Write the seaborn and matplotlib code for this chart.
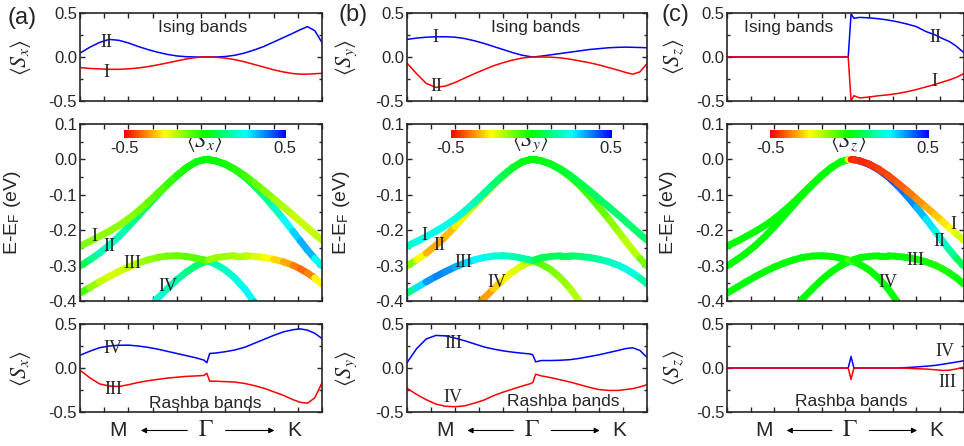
import numpy as np
import matplotlib
matplotlib.use('Agg')
import matplotlib.pyplot as plt
import seaborn as sns
from matplotlib.collections import LineCollection
from matplotlib.colors import LinearSegmentedColormap, Normalize
from matplotlib.ticker import MultipleLocator, FormatStrFormatter

# k path as fraction of the M <- Gamma -> K axis (Gamma sits at 0.524)
kpath = [0.00, 0.04, 0.08, 0.12, 0.16, 0.20, 0.24, 0.28, 0.32, 0.36, 0.40, 0.44, 0.48,
         0.512, 0.524, 0.536,
         0.56, 0.60, 0.64, 0.68, 0.72, 0.76, 0.80, 0.84, 0.88, 0.91, 0.94, 0.97, 1.00]

# band energies E-E_F (eV); nan = outside the plotted window
band_I = [-0.245, -0.232, -0.218, -0.203, -0.187, -0.168, -0.146, -0.122, -0.096, -0.070, -0.045, -0.023, -0.007,
          -0.001, 0.0, -0.001,
          -0.004, -0.013, -0.027, -0.045, -0.066, -0.088, -0.111, -0.134, -0.157, -0.175, -0.193, -0.211, -0.228]
band_II = [-0.301, -0.284, -0.265, -0.243, -0.218, -0.190, -0.160, -0.130, -0.100, -0.072, -0.047, -0.024, -0.007,
           -0.001, 0.0, -0.001,
           -0.004, -0.014, -0.029, -0.049, -0.074, -0.103, -0.135, -0.168, -0.203, -0.230, -0.256, -0.280, -0.301]
band_III = [-0.378, -0.362, -0.346, -0.331, -0.317, -0.304, -0.293, -0.284, -0.277, -0.273, -0.272, -0.274, -0.279,
            -0.284, -0.286, -0.283,
            -0.278, -0.274, -0.272, -0.272, -0.274, -0.277, -0.282, -0.289, -0.299, -0.309, -0.321, -0.335, -0.352]
band_IV = [np.nan, np.nan, np.nan, np.nan, np.nan, np.nan, np.nan, -0.425, -0.393, -0.366, -0.340, -0.318, -0.300,
           -0.290, -0.286, -0.289,
           -0.296, -0.312, -0.335, -0.365, -0.403, -0.440, np.nan, np.nan, np.nan, np.nan, np.nan, np.nan, np.nan]

# <Sx>
sx_I = [-0.12, -0.13, -0.135, -0.14, -0.14, -0.135, -0.125, -0.11, -0.09, -0.068, -0.045, -0.022, -0.006,
        0.0, 0.0, 0.0,
        -0.003, -0.012, -0.03, -0.055, -0.085, -0.115, -0.145, -0.17, -0.188, -0.195, -0.195, -0.19, -0.185]
sx_II = [0.045, 0.11, 0.165, 0.20, 0.19, 0.16, 0.12, 0.085, 0.055, 0.03, 0.012, 0.003, 0.0,
         0.0, 0.0, 0.0,
         0.0, 0.005, 0.02, 0.045, 0.08, 0.12, 0.17, 0.22, 0.27, 0.31, 0.345, 0.30, 0.165]
sx_III = [-0.025, -0.11, -0.18, -0.205, -0.21, -0.19, -0.165, -0.145, -0.13, -0.115, -0.105, -0.095, -0.09,
          -0.085, -0.06, -0.15,
          -0.15, -0.155, -0.16, -0.175, -0.2, -0.23, -0.27, -0.31, -0.36, -0.39, -0.40, -0.34, -0.17]
sx_IV = [0.145, 0.19, 0.23, 0.25, 0.258, 0.26, 0.25, 0.235, 0.215, 0.19, 0.165, 0.14, 0.115,
         0.09, 0.06, 0.165,
         0.17, 0.185, 0.205, 0.235, 0.28, 0.325, 0.37, 0.41, 0.435, 0.445, 0.43, 0.395, 0.335]

# <Sy>
sy_I = [0.20, 0.215, 0.225, 0.23, 0.23, 0.225, 0.21, 0.185, 0.155, 0.12, 0.085, 0.05, 0.02,
        0.005, 0.0, 0.003,
        0.01, 0.025, 0.04, 0.055, 0.07, 0.085, 0.095, 0.105, 0.11, 0.112, 0.11, 0.108, 0.105]
sy_II = [-0.07, -0.19, -0.3, -0.345, -0.33, -0.29, -0.24, -0.19, -0.145, -0.1, -0.065, -0.035, -0.012,
         -0.003, 0.0, 0.0,
         0.0, -0.002, -0.01, -0.025, -0.045, -0.065, -0.09, -0.12, -0.15, -0.175, -0.195, -0.17, -0.075]
sy_III = [0.06, 0.22, 0.33, 0.37, 0.365, 0.34, 0.31, 0.275, 0.24, 0.215, 0.195, 0.18, 0.168,
          0.16, 0.15, 0.07,
          0.085, 0.085, 0.088, 0.095, 0.11, 0.13, 0.15, 0.175, 0.2, 0.22, 0.23, 0.2, 0.12]
sy_IV = [-0.23, -0.30, -0.36, -0.41, -0.435, -0.44, -0.43, -0.40, -0.365, -0.315, -0.275, -0.24, -0.205,
         -0.18, -0.165, -0.07,
         -0.09, -0.11, -0.135, -0.16, -0.19, -0.22, -0.245, -0.255, -0.255, -0.245, -0.235, -0.215, -0.19]

# <Sz>
sz_I = [0.0] * 14 + [-0.5, -0.44,
        -0.465, -0.455, -0.44, -0.43, -0.415, -0.395, -0.37, -0.34, -0.31, -0.285, -0.26, -0.23, -0.19]
sz_II = [0.0] * 14 + [0.49, 0.44,
         0.45, 0.445, 0.435, 0.42, 0.40, 0.375, 0.345, 0.29, 0.25, 0.21, 0.175, 0.12, 0.05]
sz_III = [0.0] * 14 + [-0.13, 0.0,
          0.0, 0.0, 0.0, 0.0, 0.0, -0.003, -0.008, -0.012, -0.02, -0.028, -0.025, -0.01, 0.01]
sz_IV = [0.0] * 14 + [0.13, 0.0,
         0.0, 0.0, 0.0, 0.0, 0.0, 0.005, 0.012, 0.02, 0.03, 0.042, 0.055, 0.068, 0.082]

sns.set_style('ticks')
plt.rcParams['font.family'] = ['Liberation Sans', 'DejaVu Sans']
plt.rcParams['mathtext.fontset'] = 'stix'
plt.rcParams['axes.unicode_minus'] = False
plt.rcParams['axes.linewidth'] = 1.2

spin_cmap = LinearSegmentedColormap.from_list(
    'spin', ['#ff0000', '#ffff00', '#00ff00', '#00ffff', '#0000ff'])
norm = Normalize(-0.5, 0.5)
SERIF = 'Liberation Serif'
TICK = 12


def style_axes(ax, ymaj, ymin):
    ax.set_xlim(0, 1)
    ax.xaxis.set_major_locator(MultipleLocator(0.1))
    ax.yaxis.set_major_locator(MultipleLocator(ymaj))
    ax.yaxis.set_minor_locator(MultipleLocator(ymin))
    ax.yaxis.set_major_formatter(FormatStrFormatter('%.1f'))
    ax.tick_params(which='both', direction='in', top=True, right=True,
                   labelbottom=False, width=1.0, labelsize=TICK, pad=2)
    ax.tick_params(which='major', length=3.5)
    ax.tick_params(which='minor', length=2)
    for s in ax.spines.values():
        s.set_linewidth(1.2)


def spin_panel(ax, s_blue, s_red, ylab, labx):
    sns.lineplot(x=kpath, y=s_blue, ax=ax, color='#0000ff', lw=1.1)
    sns.lineplot(x=kpath, y=s_red, ax=ax, color='#ff0000', lw=1.1)
    ax.set_ylim(-0.5, 0.5)
    style_axes(ax, 0.5, 0.25)
    ax.set_ylabel(ylab, fontsize=16)
    ax.yaxis.set_label_coords(labx, 0.5)


def band_panel(ax, spins, comp, labx, cbx):
    bands = [band_IV, band_III, band_II, band_I]
    for e, s in zip(bands, spins):
        e = np.array(e, float)
        s = np.array(s, float)
        x = np.array(kpath)
        segs, cols = [], []
        for i in range(len(x) - 1):
            if np.isnan(e[i]) or np.isnan(e[i + 1]):
                continue
            segs.append([(x[i], e[i]), (x[i + 1], e[i + 1])])
            cols.append(0.5 * (s[i] + s[i + 1]))
        lc = LineCollection(segs, cmap=spin_cmap, norm=norm, linewidths=5,
                            capstyle='round')
        lc.set_array(np.array(cols))
        ax.add_collection(lc)
    ax.set_ylim(-0.4, 0.1)
    style_axes(ax, 0.1, 0.05)
    ax.set_ylabel(r'E-E$_\mathregular{F}$ (eV)', fontsize=14)
    ax.yaxis.set_label_coords(labx, 0.5)
    # colour bar inside the panel
    cax = ax.inset_axes([cbx, 0.921, 0.67, 0.045])
    cb = fig.colorbar(plt.cm.ScalarMappable(norm=norm, cmap=spin_cmap), cax=cax,
                      orientation='horizontal')
    cb.set_ticks([])
    cb.outline.set_visible(False)
    ax.text(cbx, 0.862, '-0.5', transform=ax.transAxes, ha='center', va='center', fontsize=TICK)
    ax.text(cbx + 0.665, 0.862, '0.5', transform=ax.transAxes, ha='center', va='center', fontsize=TICK)
    ax.text(cbx + 0.33, 0.9, r'$\langle S_%s\rangle$' % comp, transform=ax.transAxes,
            ha='center', va='center', fontsize=16)


def path_labels(ax):
    kw = dict(xycoords='axes fraction', ha='center', va='center', annotation_clip=False)
    ax.annotate('M', xy=(0.158, -0.21), fontsize=15, **kw)
    ax.annotate(r'$\Gamma$', xy=(0.52, -0.21), fontsize=17, **kw)
    ax.annotate('K', xy=(0.885, -0.21), fontsize=15, **kw)
    arrow = dict(arrowstyle='-|>', color='black', lw=0.8, mutation_scale=8)
    ax.annotate('', xy=(0.24, -0.21), xytext=(0.455, -0.21), xycoords='axes fraction',
                arrowprops=arrow, annotation_clip=False)
    ax.annotate('', xy=(0.815, -0.21), xytext=(0.59, -0.21), xycoords='axes fraction',
                arrowprops=arrow, annotation_clip=False)


def roman(ax, items):
    for txt, x, y in items:
        ax.text(x, y, txt, family=SERIF, fontsize=13, ha='center', va='center')


fig = plt.figure(figsize=(9.64, 4.46), dpi=100)
lefts = [0.083, 0.4222, 0.7542]
widths = [0.251, 0.249, 0.2455]
comps = ['x', 'y', 'z']
spin_sets = [(sx_I, sx_II, sx_III, sx_IV), (sy_I, sy_II, sy_III, sy_IV), (sz_I, sz_II, sz_III, sz_IV)]
ising_blue = [1, 0, 1]   # which Ising band is drawn in blue (index into I, II)
rashba_blue = [3, 2, 3]
ylab_x = [-0.195, -0.2, -0.175]
elab_x = [-0.235, -0.23, -0.205]

top_labels = [
    [('II', 0.107, 0.16), ('I', 0.107, -0.18)],
    [('I', 0.117, 0.216), ('II', 0.121, -0.34)],
    [('II', 0.879, 0.216), ('I', 0.875, -0.284)],
]
mid_labels = [
    [('I', 0.058, -0.219), ('II', 0.12, -0.247), ('III', 0.215, -0.295), ('IV', 0.364, -0.358)],
    [('I', 0.071, -0.216), ('II', 0.133, -0.242), ('III', 0.233, -0.29), ('IV', 0.375, -0.349)],
    [('I', 0.958, -0.185), ('II', 0.896, -0.233), ('III', 0.796, -0.287), ('IV', 0.679, -0.349)],
]
bot_labels = [
    [('IV', 0.136, 0.216), ('III', 0.136, -0.239)],
    [('III', 0.192, 0.284), ('IV', 0.192, -0.33)],
    [('IV', 0.921, 0.182), ('III', 0.929, -0.17)],
]
ising_pos = [0.508, 0.537, 0.262]
rashba_pos = [(0.517, -0.398), (0.65, -0.386), (0.525, -0.386)]
panel_tags = [('(a)', 22, 18), ('(b)', 353, 15), ('(c)', 675, 15)]

for j in range(3):
    sI, sII, sIII, sIV = spin_sets[j]
    ax_t = fig.add_axes([lefts[j], 1 - 101 / 446, widths[j], 88 / 446])
    ax_m = fig.add_axes([lefts[j], 1 - 301 / 446, widths[j], 177 / 446])
    ax_b = fig.add_axes([lefts[j], 1 - 412 / 446, widths[j], 88 / 446])

    isings = [sI, sII]
    b = ising_blue[j]
    spin_panel(ax_t, isings[b], isings[1 - b], r'$\langle S_%s\rangle$' % comps[j], ylab_x[j])
    ax_t.text(ising_pos[j], 0.33, 'Ising bands', ha='center', va='center', fontsize=12.5)
    roman(ax_t, top_labels[j])

    band_panel(ax_m, [sIV, sIII, sII, sI], comps[j], elab_x[j], 0.183)
    roman(ax_m, mid_labels[j])

    rashbas = {2: sIII, 3: sIV}
    rb = rashba_blue[j]
    spin_panel(ax_b, rashbas[rb], rashbas[5 - rb], r'$\langle S_%s\rangle$' % comps[j], ylab_x[j])
    ax_b.text(rashba_pos[j][0], rashba_pos[j][1], 'Rashba bands', ha='center', va='center', fontsize=12.5)
    roman(ax_b, bot_labels[j])
    path_labels(ax_b)

    tag, px, py = panel_tags[j]
    fig.text(px / 964, 1 - py / 446, tag, ha='center', va='center', fontsize=17)

fig.savefig('out.png', dpi=100)
